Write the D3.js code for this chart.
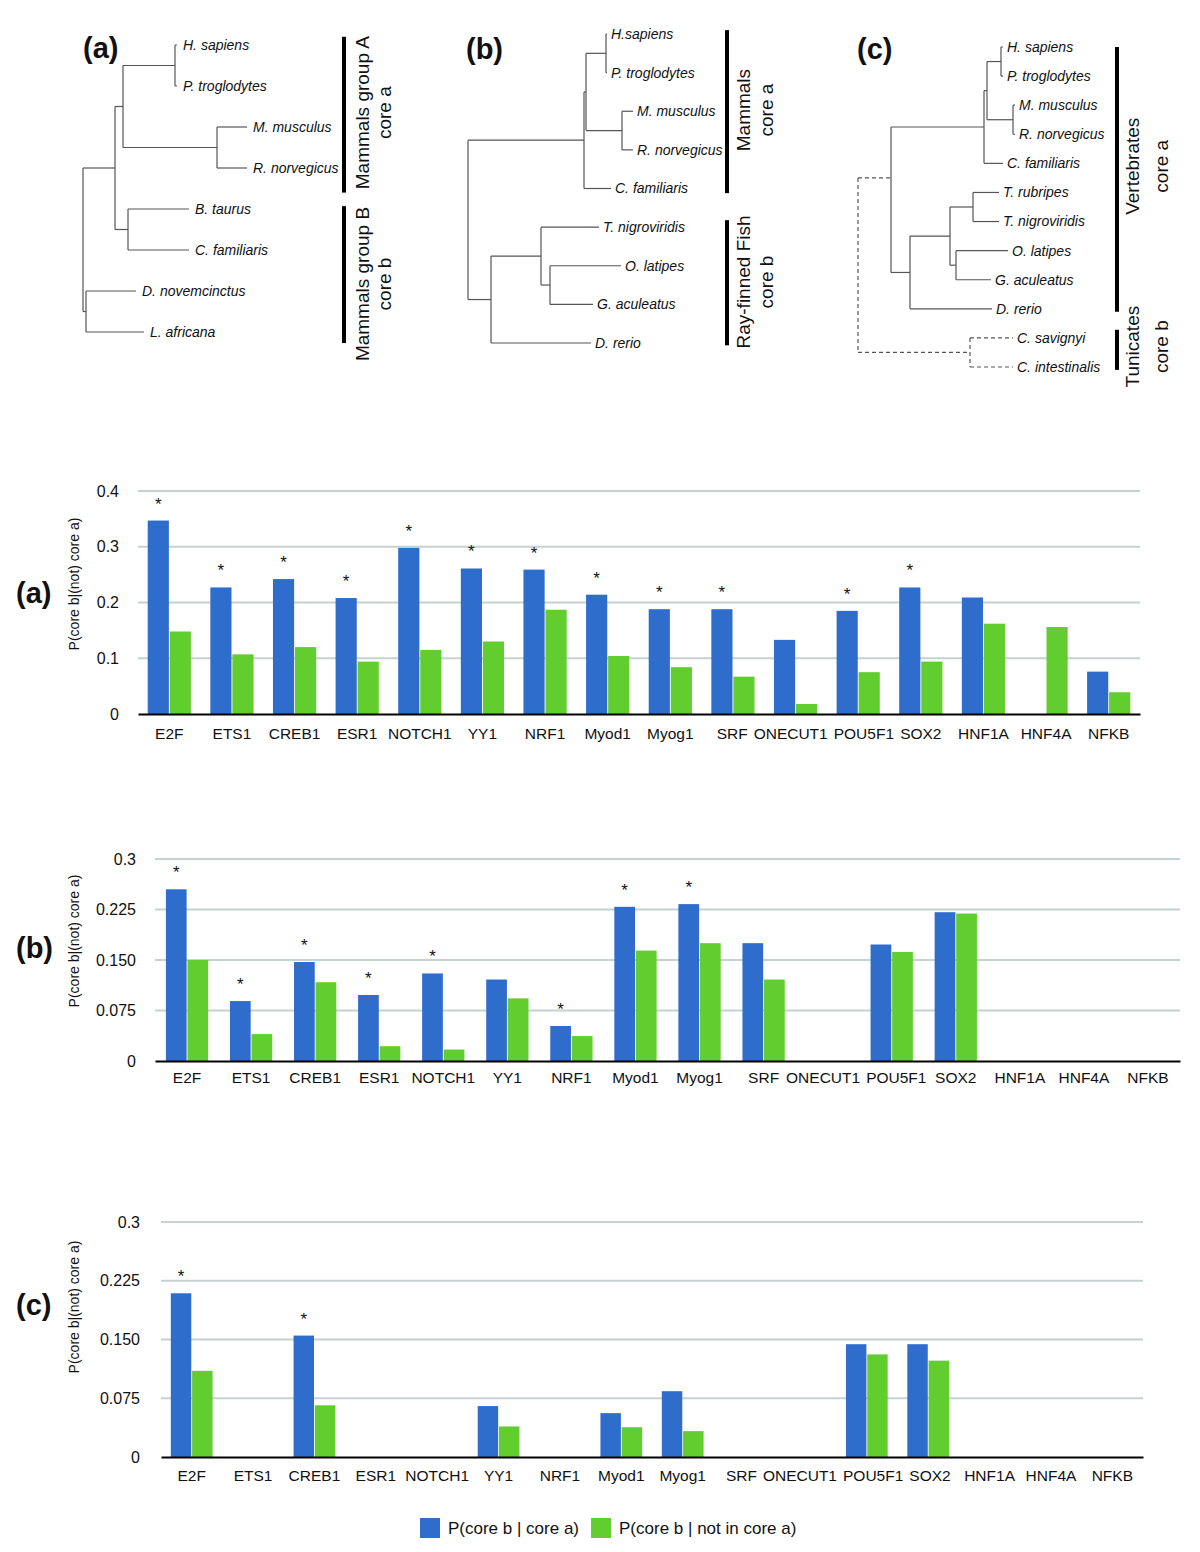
<!DOCTYPE html>
<html><head><meta charset="utf-8">
<script src="https://cdn.jsdelivr.net/npm/d3@7"></script>
<style>
body{margin:0;background:#fff}
svg{display:block}
text{font-family:"Liberation Sans",Arial,Helvetica,sans-serif;fill:#111}
</style>
</head><body>
<svg id="fig" width="1200" height="1552"></svg>
<script>
// ---------------- DATA ----------------
const categories = ["E2F","ETS1","CREB1","ESR1","NOTCH1","YY1","NRF1","Myod1","Myog1","SRF","ONECUT1","POU5F1","SOX2","HNF1A","HNF4A","NFKB"];
const seriesNames = ["P(core b | core a)","P(core b | not in core a)"];
const yTitle = "P(core b|(not) core a)";

// panel (a) : mammals
const coreA_a = [0.347,0.227,0.242,0.208,0.298,0.261,0.259,0.214,0.188,0.188,0.133,0.185,0.227,0.209,null,0.076];
const notA_a  = [0.148,0.107,0.120,0.094,0.115,0.130,0.187,0.104,0.084,0.067,0.018,0.075,0.094,0.162,0.156,0.039];
const stars_a = [1,1,1,1,1,1,1,1,1,1,0,1,1,0,0,0];
// panel (b) : mammals vs fish
const coreA_b = [0.255,0.089,0.147,0.098,0.130,0.121,0.052,0.229,0.233,0.175,null,0.173,0.221,null,null,null];
const notA_b  = [0.150,0.040,0.117,0.022,0.017,0.093,0.037,0.164,0.175,0.121,null,0.162,0.219,null,null,null];
const stars_b = [1,1,1,1,1,0,1,1,1,0,0,0,0,0,0,0];
// panel (c) : vertebrates vs tunicates
const coreA_c = [0.209,null,0.155,null,null,0.065,null,0.056,0.084,null,null,0.144,0.144,null,null,null];
const notA_c  = [0.110,null,0.066,null,null,0.039,null,0.038,0.033,null,null,0.131,0.123,null,null,null];
const stars_c = [1,0,1,0,0,0,0,0,0,0,0,0,0,0,0,0];

const ticks_a = [0,0.1,0.2,0.3,0.4];
const tickLabels_a = ["0","0.1","0.2","0.3","0.4"];
const ticks_bc = [0,0.075,0.15,0.225,0.3];
const tickLabels_bc = ["0","0.075","0.150","0.225","0.3"];

// trees (newick, branch lengths in arbitrary units)
const treeA = "(((((H. sapiens:2,P. troglodytes:2):52,(M. musculus:30,R. norvegicus:30):94):8,(B. taurus:61,C. familiaris:61):13):32,(D. novemcinctus:50,L. africana:58):3);";
const treeB = "((((H.sapiens:1,P. troglodytes:1):20,(M. musculus:11,R. norvegicus:11):36):2,C. familiaris:27):116,((T. nigroviridis:58,(O. latipes:71,G. aculeatus:43):9):50,D. rerio:100):23);";
const treeC = "((((((H. sapiens:2,P. troglodytes:2):14,(M. musculus:2,R. norvegicus:2):26):3,C. familiaris:19):93,(((T. rubripes:26,T. nigroviridis:26):23,(O. latipes:52,G. aculeatus:35):6):40,D. rerio:82):19)mean:33,(C. savignyi:43,C. intestinalis:43)dashed:112)dashed;";

// brackets: extents in leaf-index units
const bracketsA = [{from:-0.2,to:3.6,at:1.65,lines:["Mammals group A","core a"]},{from:3.93,to:7.27,at:5.83,lines:["Mammals group B","core b"]}];
const bracketsB = [{from:-0.1,to:4.12,at:1.97,lines:["Mammals","core a"]},{from:4.82,to:8.06,at:6.42,lines:["Ray-finned Fish","core b"]}];
const bracketsC = [{from:0,to:9.1,at:4.1,lines:["Vertebrates","core a"]},{from:9.72,to:11.1,at:10.3,lines:["Tunicates","core b"]}];

// ---------------- HELPERS ----------------
const BLUE = "#2f6dcd", GREEN = "#62cd2e", GRID = "#c6d1d1";
const svg = d3.select("#fig");

function parseNewick(s){
  let i = 0;
  function node(){
    const n = {};
    if (s[i] === "("){
      i++; n.children = [];
      while (true){
        n.children.push(node());
        if (s[i] === ","){ i++; continue; }
        break;
      }
      i++; // ')'
    }
    let name = "";
    while (i < s.length && !":,);".includes(s[i])) name += s[i++];
    n.name = name.trim();
    if (s[i] === ":"){
      i++; let num = "";
      while (i < s.length && !",);".includes(s[i])) num += s[i++];
      n.len = +num;
    } else n.len = 0;
    return n;
  }
  return node();
}

// ---------------- TREES ----------------
const treeLayouts = [
  {nw:treeA, brackets:bracketsA, rootX:83, y0:45, y1:332, off:6, letter:"(a)", lx:83, ly:58, bx:344, tx:[362,384]},
  {nw:treeB, brackets:bracketsB, rootX:468, y0:34, y1:343, off:4, letter:"(b)", lx:466, ly:59, bx:727, tx:[743,766]},
  {nw:treeC, brackets:bracketsC, rootX:858, y0:47, y1:367, off:4, letter:"(c)", lx:857, ly:59, bx:1117, tx:[1132,1161]}
];

treeLayouts.forEach(cfg => {
  const g = svg.append("g");
  const root = d3.hierarchy(parseNewick(cfg.nw));
  root.eachBefore(d => { d.dist = d.parent ? d.parent.dist + d.data.len : 0; });
  const leaves = root.leaves();
  const yLeaf = d3.scaleLinear().domain([0, leaves.length - 1]).range([cfg.y0, cfg.y1]);
  leaves.forEach((l, i) => { l.yy = yLeaf(i); });
  root.eachAfter(d => {
    if (d.children){
      if (d.data.name.includes("mean")) d.yy = d3.mean(d.leaves(), l => l.yy);
      else d.yy = (d.children[0].yy + d.children[d.children.length - 1].yy) / 2;
    }
  });
  const maxD = d3.max(root.descendants(), d => d.dist);
  const xD = d3.scaleLinear().domain([0, maxD]).range([cfg.rootX, cfg.rootX + maxD]);

  const lineStyle = (sel, dashed) => sel.attr("stroke", "#555").attr("stroke-width", 1.2)
      .attr("fill", "none").attr("stroke-dasharray", dashed ? "4,3" : null);

  root.descendants().filter(d => d.parent).forEach(d => {
    g.append("line").attr("x1", xD(d.parent.dist)).attr("x2", xD(d.dist))
      .attr("y1", d.yy).attr("y2", d.yy)
      .call(lineStyle, d.parent.data.name.includes("dashed"));
  });
  root.descendants().filter(d => d.children).forEach(d => {
    const ys = d.children.map(c => c.yy);
    g.append("line").attr("x1", xD(d.dist)).attr("x2", xD(d.dist))
      .attr("y1", d3.min(ys)).attr("y2", d3.max(ys))
      .call(lineStyle, d.data.name.includes("dashed"));
  });
  g.selectAll("text.leaf").data(leaves).join("text").attr("class", "leaf")
    .attr("x", d => xD(d.dist) + cfg.off).attr("y", d => d.yy).attr("dy", "0.35em")
    .attr("font-size", 14).attr("font-style", "italic").text(d => d.data.name);
  cfg.brackets.forEach(b => {
    g.append("line").attr("x1", cfg.bx).attr("x2", cfg.bx)
      .attr("y1", yLeaf(b.from)).attr("y2", yLeaf(b.to))
      .attr("stroke", "#000").attr("stroke-width", 4);
    b.lines.forEach((t, j) => {
      g.append("text").attr("transform", `translate(${cfg.tx[j]},${yLeaf(b.at)}) rotate(-90)`)
        .attr("text-anchor", "middle").attr("dominant-baseline", "central")
        .attr("font-size", 19).text(t);
    });
  });
  g.append("text").attr("x", cfg.lx).attr("y", cfg.ly).attr("font-size", 29)
    .attr("font-weight", "bold").text(cfg.letter);
});

// ---------------- BAR CHARTS ----------------
const panels = [
  {letter:"(a)", blue:coreA_a, green:notA_a, stars:stars_a, ticks:ticks_a, labels:tickLabels_a,
   x0:138, x1:1140, yTop:491, yBot:714, pi:0.31, po:0.155, catPad:14, tickPad:19, ly:603, titleY:584},
  {letter:"(b)", blue:coreA_b, green:notA_b, stars:stars_b, ticks:ticks_bc, labels:tickLabels_bc,
   x0:155, x1:1180, yTop:859, yBot:1061, pi:0.34, po:0.17, catPad:11, tickPad:19, ly:958, titleY:941},
  {letter:"(c)", blue:coreA_c, green:notA_c, stars:stars_c, ticks:ticks_bc, labels:tickLabels_bc,
   x0:161, x1:1143, yTop:1222, yBot:1457, pi:0.32, po:0.16, catPad:13, tickPad:21, ly:1315, titleY:1307}
];

panels.forEach(p => {
  const g = svg.append("g");
  const x = d3.scaleBand().domain(categories).range([p.x0, p.x1]).paddingInner(p.pi).paddingOuter(p.po);
  const xs = d3.scaleBand().domain([0, 1]).range([0, x.bandwidth()]).paddingInner(0.04);
  const y = d3.scaleLinear().domain([0, d3.max(p.ticks)]).range([p.yBot, p.yTop]);

  g.selectAll("line.grid").data(p.ticks.filter(t => t > 0)).join("line").attr("class", "grid")
    .attr("x1", p.x0).attr("x2", p.x1).attr("y1", d => y(d)).attr("y2", d => y(d))
    .attr("stroke", GRID).attr("stroke-width", 2);

  const rows = [];
  categories.forEach((c, i) => {
    [p.blue[i], p.green[i]].forEach((v, s) => { if (v != null) rows.push({c, s, v}); });
  });
  g.selectAll("rect").data(rows).join("rect")
    .attr("x", d => x(d.c) + xs(d.s)).attr("width", xs.bandwidth())
    .attr("y", d => y(d.v)).attr("height", d => y(0) - y(d.v))
    .attr("fill", d => d.s === 0 ? BLUE : GREEN);

  const starRows = categories.map((c, i) => ({c, v: p.blue[i], s: p.stars[i]})).filter(d => d.s && d.v != null);
  g.selectAll("text.star").data(starRows).join("text").attr("class", "star")
    .attr("x", d => x(d.c) + xs(0) + xs.bandwidth() / 2).attr("y", d => y(d.v) - 11)
    .attr("text-anchor", "middle").attr("font-size", 17).text("*");

  const yAxis = d3.axisLeft(y).tickValues(p.ticks).tickFormat((d, i) => p.labels[i]).tickSize(0).tickPadding(p.tickPad);
  const ya = g.append("g").attr("transform", `translate(${p.x0},0)`).call(yAxis);
  ya.select(".domain").remove();
  ya.selectAll("text").attr("font-size", 16).attr("fill", "#111").attr("font-family", '"Liberation Sans",Arial,sans-serif');

  const xAxis = d3.axisBottom(x).tickSize(0).tickSizeOuter(0).tickPadding(p.catPad);
  const xa = g.append("g").attr("transform", `translate(0,${p.yBot})`).call(xAxis);
  xa.select(".domain").attr("stroke", "#000").attr("stroke-width", 2);
  const labs = xa.selectAll(".tick text").attr("font-size", 15.5).attr("fill", "#111")
    .attr("font-family", '"Liberation Sans",Arial,sans-serif');

  // resolve overlapping category labels (keep a small gap)
  const nodes = labs.nodes();
  const w = nodes.map(n => n.getComputedTextLength());
  const cx = categories.map(c => x(c) + x.bandwidth() / 2);
  const shift = cx.map(() => 0);
  const gap = 6;
  for (let it = 0; it < 300; it++){
    for (let i = 0; i < nodes.length - 1; i++){
      const r = cx[i] + shift[i] + w[i] / 2 + gap;
      const l = cx[i + 1] + shift[i + 1] - w[i + 1] / 2;
      const ov = r - l;
      if (ov > 0){ shift[i] -= ov / 2; shift[i + 1] += ov / 2; }
    }
  }
  nodes.forEach((n, i) => d3.select(n).attr("x", shift[i]));

  g.append("text").attr("transform", `translate(74,${p.titleY}) rotate(-90)`)
    .attr("text-anchor", "middle").attr("dominant-baseline", "central")
    .attr("font-size", 14).text(yTitle);
  g.append("text").attr("x", 16).attr("y", p.ly).attr("font-size", 29).attr("font-weight", "bold").text(p.letter);
});

// ---------------- LEGEND ----------------
const lg = svg.append("g").attr("transform", "translate(420,1518)");
let lx = 0;
seriesNames.forEach((n, i) => {
  lg.append("rect").attr("x", lx).attr("y", 0).attr("width", 20).attr("height", 20).attr("fill", i === 0 ? BLUE : GREEN);
  const t = lg.append("text").attr("x", lx + 28).attr("y", 16).attr("font-size", 17).text(n);
  lx += 28 + t.node().getComputedTextLength() + 12;
});
</script>
</body></html>
